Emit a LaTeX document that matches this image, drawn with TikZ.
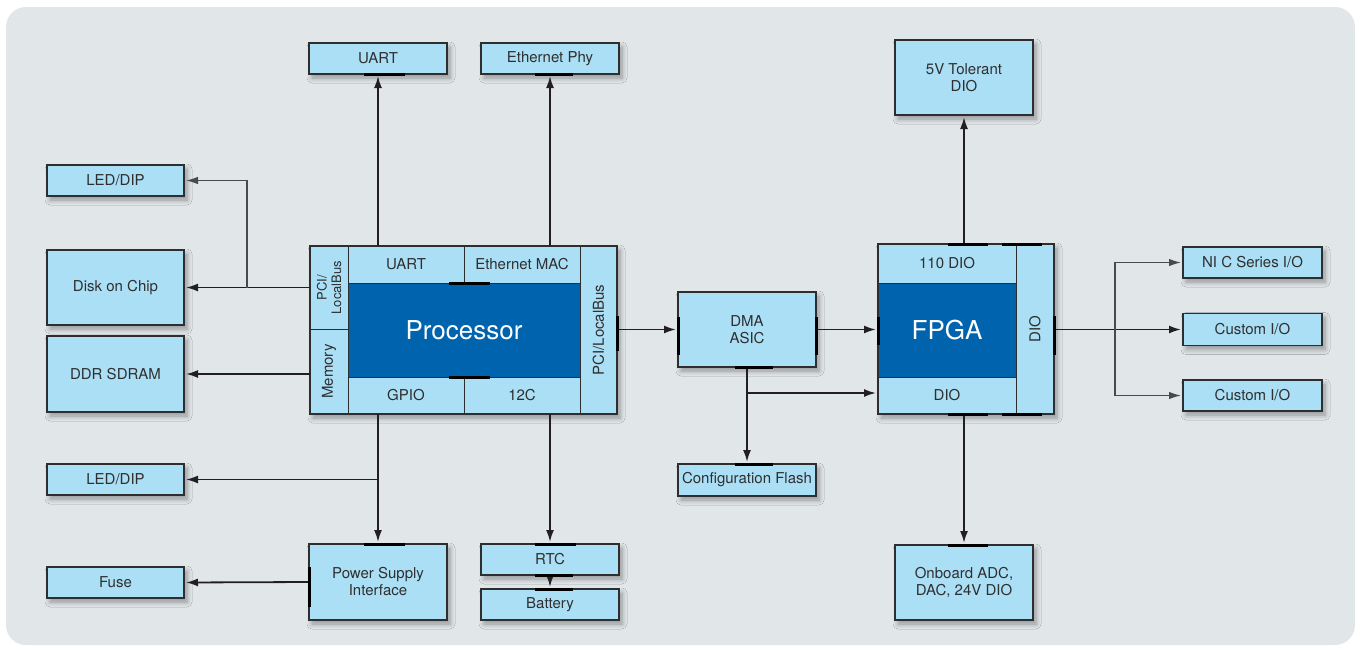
\documentclass[tikz,border=0pt]{standalone}
\usepackage{fontspec}
\setmainfont{TeX Gyre Heros}
\usetikzlibrary{arrows.meta,shadows.blur}
\definecolor{bgc}{HTML}{E1E6E9}
\definecolor{boxc}{HTML}{ABDFF6}
\definecolor{procc}{HTML}{0063AD}
\definecolor{linec}{HTML}{2E2E2E}
\definecolor{txtc}{HTML}{2F2F2F}
\definecolor{arrc}{HTML}{231F20}
\definecolor{thinc}{HTML}{4A4A4A}
\newcommand\lblf{\fontsize{15}{18}\selectfont}
\newcommand\bigf{\fontsize{26}{30}\selectfont}
\newcommand\smf{\fontsize{13}{14.5}\selectfont}
\begin{document}
\begin{tikzpicture}[x=1pt,y=-1pt,
  blk/.style={draw=linec, line width=1.3pt, fill=boxc, text=txtc, font=\lblf, align=center, inner sep=0pt, outer sep=0pt,
    blur shadow={shadow xshift=3pt, shadow yshift=-4pt, shadow blur radius=5pt, shadow blur steps=6, shadow opacity=35}},
  frame/.style={blk},
  sub/.style={draw=linec, line width=1pt, fill=boxc, text=txtc, font=\lblf, align=center, inner sep=0pt, outer sep=0pt},
  dark/.style={sub, fill=procc, text=white, font=\bigf},
  rot/.style={text=txtc, rotate=90, align=center, inner sep=0pt},
  arr/.style={draw=arrc, line width=1.8pt, -{Latex[length=12pt,width=8pt]}, shorten >=2pt},
  thinarr/.style={draw=thinc, line width=1.3pt, -{Latex[length=12pt,width=7.5pt]}, shorten >=2pt},
  pad/.style={draw=black, line width=3pt},
  outline/.style={draw=linec, line width=1.3pt}]
\useasboundingbox (0,0) rectangle (1361,651);
\fill[bgc, rounded corners=20pt] (6,7) rectangle (1355,645);

% left column
\node[blk, minimum width=137pt, minimum height=31pt] (ledA) at (115.5,180.5) {LED/DIP};
\node[blk, minimum width=137pt, minimum height=75pt] (disk) at (115.5,287.5) {Disk on Chip};
\node[blk, minimum width=137pt, minimum height=76pt] (ddr) at (115.5,374) {DDR SDRAM};
\node[blk, minimum width=137pt, minimum height=31pt] (ledB) at (115.5,479.5) {LED/DIP};
\node[blk, minimum width=137pt, minimum height=31pt] (fuse) at (115.5,582.5) {Fuse};

% top / bottom around processor
\node[blk, minimum width=138pt, minimum height=31pt] (uartT) at (378,58.5) {UART};
\node[blk, minimum width=138pt, minimum height=31pt] (ephy) at (550,58.5) {Ethernet Phy};
\node[blk, minimum width=138pt, minimum height=76pt] (psu) at (378,582) {Power Supply\\[-1pt]Interface};
\node[blk, minimum width=138pt, minimum height=31pt] (rtc) at (550,559.5) {RTC};
\node[blk, minimum width=138pt, minimum height=31pt] (batt) at (550,604.5) {Battery};

% processor block
\node[frame, minimum width=307pt, minimum height=168pt] (procblk) at (463.5,330) {};
\node[sub, minimum width=38pt, minimum height=83pt] (pl) at (329,287.5) {};
\node[rot, font=\smf] (pltxt) at (pl) {PCI/\\LocalBus};
\node[sub, minimum width=38pt, minimum height=85pt] (mem) at (329,371.5) {};
\node[rot, font=\lblf] (memtxt) at (mem) {Memory};
\node[sub, minimum width=116pt, minimum height=37pt] (puart) at (406,264.5) {UART};
\node[sub, minimum width=116pt, minimum height=37pt] (pmac) at (522,264.5) {Ethernet MAC};
\node[dark, minimum width=232pt, minimum height=94pt] (proc) at (464,330) {Processor};
\node[sub, minimum width=116pt, minimum height=37pt] (gpio) at (406,395.5) {GPIO};
\node[sub, minimum width=116pt, minimum height=37pt] (i2c) at (522,395.5) {12C};
\node[sub, minimum width=37pt, minimum height=168pt] (pr) at (598.5,330) {};
\node[rot, font=\lblf] (prtxt) at (pr) {PCI/LocalBus};
\draw[outline] (procblk.north west) rectangle (procblk.south east);

% DMA
\node[blk, minimum width=138pt, minimum height=75pt] (dma) at (747,329.5) {DMA\\[-1pt]ASIC};
\node[blk, minimum width=138pt, minimum height=32pt] (cflash) at (747,480) {Configuration Flash};

% FPGA block
\node[blk, minimum width=138pt, minimum height=75pt] (tol) at (964,77.5) {5V Tolerant\\[-1pt]DIO};
\node[blk, minimum width=138pt, minimum height=75pt] (adc) at (964,582.5) {Onboard ADC,\\[-1pt]DAC, 24V DIO};
\node[frame, minimum width=176pt, minimum height=170pt] (fblk) at (966,329) {};
\node[sub, minimum width=138pt, minimum height=39pt] (f110) at (947,263.5) {110 DIO};
\node[dark, minimum width=138pt, minimum height=94pt] (fpga) at (947,330) {FPGA};
\node[sub, minimum width=138pt, minimum height=37pt] (fdio) at (947,395.5) {DIO};
\node[sub, minimum width=38pt, minimum height=170pt] (fdior) at (1035,329) {};
\node[rot, font=\lblf] (fdiortxt) at (fdior) {DIO};
\draw[outline] (fblk.north west) rectangle (fblk.south east);

% right column
\node[blk, minimum width=139pt, minimum height=31pt] (nic) at (1252.5,262.5) {NI C Series I/O};
\node[blk, minimum width=139pt, minimum height=32pt] (cio1) at (1252.5,329.5) {Custom I/O};
\node[blk, minimum width=139pt, minimum height=31pt] (cio2) at (1252.5,395.5) {Custom I/O};

% connectors
\coordinate (jA) at (247,287.5);
\draw[arr] (procblk.west |- disk.east) -- (disk.east);
\draw[thinarr] (jA) |- (ledA.east);
\draw[arr] (procblk.west |- ddr.east) -- (ddr.east);
\draw[arr] (uartT.south |- procblk.north) -- (uartT.south);
\draw[arr] (ephy.south |- procblk.north) -- (ephy.south);
\draw[arr] (psu.north |- procblk.south) -- (psu.north);
\draw[arr] (psu.north |- ledB.east) -- (ledB.east);
\draw[arr] (rtc.north |- procblk.south) -- (rtc.north);
\draw[arr] (rtc.south) -- (batt.north);
\draw[arr] (psu.west) -- (fuse.east);
\draw[arr] (procblk.east |- dma.west) -- (dma.west);
\draw[arr] (dma.east) -- (fblk.west |- dma.east);
\draw[arr] (dma.south) -- (cflash.north);
\coordinate (jD) at (747,393);
\draw[arr] (jD) -- (jD -| fblk.west);
\draw[arr] (tol.south |- fblk.north) -- (tol.south);
\draw[arr] (adc.north |- fblk.south) -- (adc.north);
\coordinate (jR) at (1115,329.5);
\draw[arr] (fblk.east |- cio1.west) -- (cio1.west);
\draw[thinarr] (jR) |- (nic.west);
\draw[thinarr] (jR) |- (cio2.west);

% connection pads
\draw[pad] (364,74) -- (405,74);
\draw[pad] (535,74) -- (573,74);
\draw[pad] (449,283) -- (490,283);
\draw[pad] (449,377) -- (490,377);
\draw[pad] (617,316) -- (617,351);
\draw[pad] (364,544) -- (405,544);
\draw[pad] (309,567) -- (309,607);
\draw[pad] (535,544) -- (576,544);
\draw[pad] (535,575) -- (573,575);
\draw[pad] (535,589) -- (573,589);
\draw[pad] (678,317) -- (678,355);
\draw[pad] (816,317) -- (816,355);
\draw[pad] (735,367) -- (773,367);
\draw[pad] (735,464) -- (773,464);
\draw[pad] (948,244) -- (988,244);
\draw[pad] (1002,244) -- (1042,244);
\draw[pad] (948,414) -- (988,414);
\draw[pad] (1002,414) -- (1042,414);
\draw[pad] (948,545) -- (988,545);
\draw[pad] (878,317) -- (878,345);
\draw[pad] (1054,316) -- (1054,355);
\end{tikzpicture}
\end{document}
